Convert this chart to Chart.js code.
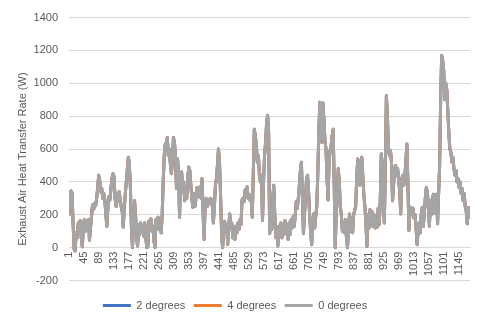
<!DOCTYPE html>
<html>
<head>
<meta charset="utf-8">
<title>Exhaust Air Heat Transfer Rate</title>
<script src="https://cdn.jsdelivr.net/npm/chart.js@4.4.0/dist/chart.umd.min.js"></script>
<style>
  body { margin: 0; background: #fff; }
  canvas { display: block; }
</style>
</head>
<body>
<canvas id="grafico" width="482" height="327"></canvas>
<script>
// exhaust air heat transfer rate (W), one reading every 3 hours
const deg0 = [
  200, 300, 345, 330, 150, -10, -20, 90, 60, 150,
  110, 165, 60, 5, 120, 170, 100, 160, 130, 170,
  45, 120, 190, 260, 230, 270, 255, 300, 360,
  440, 410, 340, 360, 300, 330, 290, 200, 130, 250,
  310, 290, 360, 420, 450, 430, 300, 250, 330, 280,
  340, 290, 250, 220, 125, 240, 330, 400, 480, 550,
  500, 360, 120, 0, 150, 285, 200, 60, 10,
  140, 80, 150, 100, 130, 70, 150, 60, 0, 5,
  160, 120, 175, 100, 130, 40, 0, 170, 130, 185,
  110, 125, 90, 200, 400, 560, 630, 600, 670, 560,
  600, 510, 450, 530, 670, 640, 560, 360, 540, 450,
  185, 440, 460, 340, 400, 285, 365, 300, 420,
  490, 470, 380, 300, 245, 330, 250, 300, 365, 310,
  340, 370, 300, 420, 200, 50, 270, 300, 250, 290,
  280, 300, 260, 290, 150, 250, 380, 420, 500, 600,
  520, 330, 100, 0, 90, 160, 100, 140, 20,
  130, 205, 120, 150, 60, 100, 50, 130, 90, 150,
  110, 170, 140, 290, 300, 280, 350, 330, 370, 300,
  320, 285, 320, 185, 450, 720, 680, 620, 520, 560,
  440, 400, 440, 165, 400, 560, 640, 760, 805, 700,
  85, 200, 110, 300, 380, 200, 60, 110, 10,
  130, 90, 150, 60, 120, 80, 165, 100, 140, 50,
  150, 80, 170, 120, 190, 130, 200, 280, 240, 300,
  380, 470, 520, 300, 85, 200, 300, 420, 440, 340,
  200, 100, 18, 150, 205, 120, 190, 250, 450,
  700, 885, 760, 640, 880, 780, 650, 600, 430, 290,
  520, 590, 620, 680, 720, 400, 0, 200, 330, 480,
  400, 250, 200, 100, 150, 90, 170, 60, 0, 120,
  205, 100, 180, 90, 200, 225, 250, 420, 540,
  520, 380, 470, 550, 430, 320, 250, 150, 8, 200,
  120, 230, 160, 220, 130, 200, 120, 180, 125, 240,
  140, 280, 570, 500, 280, 150, 500, 925, 800, 600,
  560, 590, 520, 285, 380, 480, 500, 440, 480, 400,
  350, 205, 420, 440, 380, 430, 520, 630, 400,
  105, 220, 245, 205, 240, 180, 200, 120, 18, 100,
  150, 90, 200, 245, 130, 200, 300, 365, 340, 250,
  130, 285, 200, 300, 325, 210, 300, 325, 145, 330,
  500, 900, 1170, 1140, 1075, 900, 1000, 960, 830,
  700, 600, 580, 520, 550, 480, 440, 470, 400, 420,
  365, 400, 330, 360, 285, 330, 250, 220, 145, 245,
  185
];
// the 2 and 4 degree runs sit on top of the 0 degree run
const deg2 = deg0.slice();
const deg4 = deg0.slice();

const hours = deg0.map((v, i) => 1 + 3 * i);
const xTicks = [1, 45, 89, 133, 177, 221, 265, 309, 353, 397, 441, 485, 529, 573,
  617, 661, 705, 749, 793, 837, 881, 925, 969, 1013, 1057, 1101, 1145];
const yTicks = [-200, 0, 200, 400, 600, 800, 1000, 1200, 1400];

const fonte = '"Liberation Sans", Arial, sans-serif';
const cinza = '#595959';

// axis title drawn by hand so it can sit a little below the middle
const tituloY = {
  id: 'tituloY',
  afterDraw(chart) {
    const area = chart.chartArea;
    const ctx = chart.ctx;
    ctx.save();
    ctx.translate(22.5, (area.top + area.bottom) / 2 + 10);
    ctx.rotate(-Math.PI / 2);
    ctx.font = '11px ' + fonte;
    ctx.fillStyle = cinza;
    ctx.textAlign = 'center';
    ctx.textBaseline = 'middle';
    ctx.fillText('Exhaust Air Heat Transfer Rate (W)', 0, 0);
    ctx.restore();
  }
};

Chart.defaults.font.family = fonte;
Chart.defaults.color = cinza;

const ctx = document.getElementById('grafico').getContext('2d');

new Chart(ctx, {
  type: 'line',
  data: {
    labels: hours,
    datasets: [
      { label: '2 degrees', data: deg2, borderColor: '#4472C4', backgroundColor: '#4472C4', order: 3 },
      { label: '4 degrees', data: deg4, borderColor: '#ED7D31', backgroundColor: '#ED7D31', order: 2 },
      { label: '0 degrees', data: deg0, borderColor: '#A5A5A5', backgroundColor: '#A5A5A5', order: 1 }
    ]
  },
  options: {
    responsive: false,
    animation: false,
    layout: { padding: { top: 11, right: 12, bottom: 6, left: 0 } },
    elements: {
      point: { radius: 0 },
      line: { borderWidth: 3, tension: 0, borderJoinStyle: 'round', borderCapStyle: 'round' }
    },
    scales: {
      x: {
        type: 'linear',
        position: { y: 0 },
        min: 1,
        max: 1176,
        grid: { display: false, drawTicks: false },
        border: { display: true, color: '#d9d9d9', width: 1 },
        afterBuildTicks: scale => { scale.ticks = xTicks.map(v => ({ value: v })); },
        ticks: {
          autoSkip: false,
          minRotation: 90,
          maxRotation: 90,
          padding: 4,
          font: { size: 11 },
          callback: v => String(v)
        }
      },
      y: {
        min: yTicks[0],
        max: yTicks[yTicks.length - 1],
        grid: { color: '#d9d9d9', drawTicks: false },
        border: { display: false },
        afterFit: scale => { scale.width = 69; },
        ticks: { stepSize: 200, padding: 11, font: { size: 11 }, callback: v => String(v) }
      }
    },
    plugins: {
      tooltip: { enabled: false },
      legend: {
        position: 'bottom',
        title: { display: true, text: '', padding: { top: 10, bottom: 0 }, font: { size: 1, lineHeight: 1 } },
        labels: {
          boxWidth: 28,
          boxHeight: 3,
          padding: 8.5,
          font: { size: 11 },
          color: cinza,
          sort: (a, b) => a.datasetIndex - b.datasetIndex,
          generateLabels: chart => Chart.defaults.plugins.legend.labels.generateLabels(chart)
            .map(item => Object.assign(item, { lineWidth: 0 }))
        }
      }
    }
  },
  plugins: [tituloY]
});
</script>
</body>
</html>
